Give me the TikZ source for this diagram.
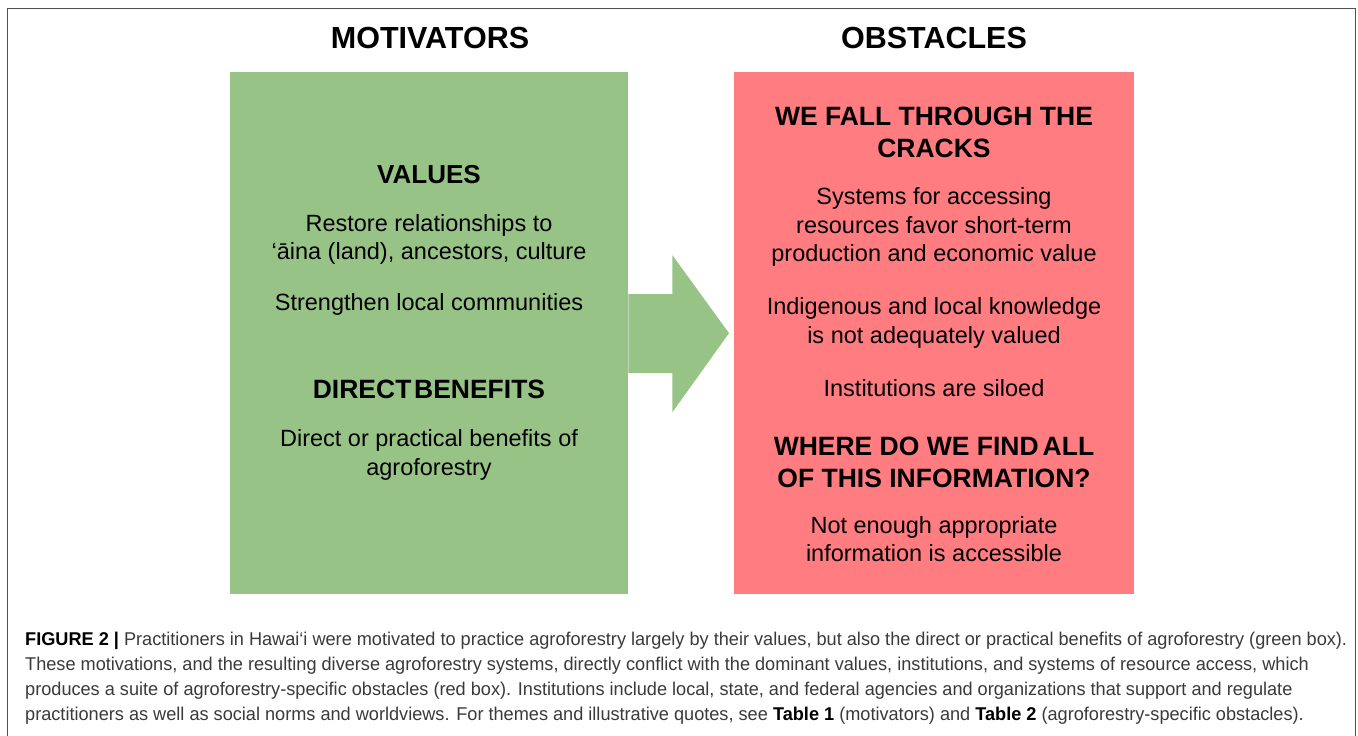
\documentclass[tikz,border=0pt]{standalone}
\usepackage{fontspec}
\setmainfont{Liberation Sans}
\usepackage{graphicx}
\usetikzlibrary{calc}
\definecolor{mgreen}{HTML}{98C387}
\definecolor{mred}{HTML}{FF7C80}
\definecolor{captext}{HTML}{3A3A3A}
\definecolor{framegray}{HTML}{505050}
\newsavebox\capbox
\begin{document}
\sbox\capbox{\fontsize{18.5}{22}\selectfont\textbf{FIGURE 2 |} Practitioners in Hawai‘i were motivated to practice agroforestry largely by their values, but also the direct or practical benefits of agroforestry (green box).}%
\pgfmathsetmacro\capsx{1322/\the\wd\capbox}%
\begin{tikzpicture}[x=1pt,y=-1pt,
  headtxt/.style={font=\bfseries\fontsize{30.5}{36}\selectfont, anchor=base, inner sep=0pt},
  subtxt/.style={font=\bfseries\fontsize{26.5}{31}\selectfont, anchor=base, inner sep=0pt},
  bodytxt/.style={font=\fontsize{23.5}{28}\selectfont, anchor=base, inner sep=0pt},
  captxt/.style={font=\fontsize{18.5}{22}\selectfont, anchor=base west, inner sep=0pt, text=captext},
  panel/.style={minimum width=#1, minimum height=522pt, inner sep=0pt, anchor=north west, draw=none}]
\useasboundingbox (0,0) rectangle (1358,736);
\fill[white] (0,0) rectangle (1358,736);
% frame
\draw[framegray, line width=1.5pt] (7.5,737) -- (7.5,8.5) -- (1355.5,8.5) -- (1355.5,737);
% headers
\node[headtxt] (hmot) at (430,48) {MOTIVATORS};
\node[headtxt] (hobs) at (934,48) {OBSTACLES};
% boxes
\node[panel=398pt, fill=mgreen] (green) at (230,72) {};
\node[panel=400pt, fill=mred] (red) at (734,72) {};
% arrow
\fill[mgreen] ($(green.east)+(0,-39)$) -- ++(44,0) -- ++(0,-39) -- ($(red.west)+(-5,0)$) -- ($(green.east)+(44,79)$) -- ++(0,-39) -- ($(green.east)+(0,40)$) -- cycle;
% green texts
\node[subtxt, font=\bfseries\fontsize{26}{31}\selectfont] (values) at (429,183) {VALUES};
\node[bodytxt] (v1) at (429,231) {Restore relationships to};
\node[bodytxt] (v2) at (429,259.5) {‘āina (land), ancestors, culture};
\node[bodytxt] (v3) at (429,310.5) {Strengthen local communities};
\node[subtxt, font=\bfseries\fontsize{26.5}{31}\selectfont] (direct) at (429,398) {DIRECT\hspace{0.1em}BENEFITS};
\node[bodytxt] (d1) at (429,446.5) {Direct or practical benefits of};
\node[bodytxt] (d2) at (429,475) {agroforestry};
% red texts
\node[subtxt] (fall1) at (934,125) {WE FALL THROUGH THE};
\node[subtxt] (fall2) at (934,157) {CRACKS};
\node[bodytxt] (s1) at (934,204) {Systems for accessing};
\node[bodytxt] (s2) at (934,233) {resources favor short-term};
\node[bodytxt] (s3) at (934,261.5) {production and economic value};
\node[bodytxt] (k1) at (934,314) {Indigenous and local knowledge};
\node[bodytxt] (k2) at (934,343) {is not adequately valued};
\node[bodytxt] (i1) at (934,396) {Institutions are siloed};
\node[subtxt] (where1) at (934,455) {WHERE DO WE FIND\hspace{0.15em}ALL};
\node[subtxt] (where2) at (934,487) {OF THIS INFORMATION?};
\node[bodytxt] (n1) at (934,533) {Not enough appropriate};
\node[bodytxt] (n2) at (934,561) {information is accessible};
% caption
\node[captxt] (c1) at (25,645) {\scalebox{\capsx}[1]{\textbf{\color{black}FIGURE 2 |} Practitioners in Hawai‘i were motivated to practice agroforestry largely by their values, but also the direct or practical benefits of agroforestry (green box).}};
\node[captxt] (c2) at (25,670) {\scalebox{\capsx}[1]{These motivations, and the resulting diverse agroforestry systems, directly conflict with the dominant values, institutions, and systems of resource access, which}};
\node[captxt] (c3) at (25,695) {\scalebox{\capsx}[1]{produces a suite of agroforestry-specific obstacles (red box). Institutions include local, state, and federal agencies and organizations that support and regulate}};
\node[captxt] (c4) at (25,720) {\scalebox{\capsx}[1]{practitioners as well as social norms and worldviews. For themes and illustrative quotes, see \textbf{\color{black}Table 1} (motivators) and \textbf{\color{black}Table 2} (agroforestry-specific obstacles).}};
\end{tikzpicture}
\end{document}
